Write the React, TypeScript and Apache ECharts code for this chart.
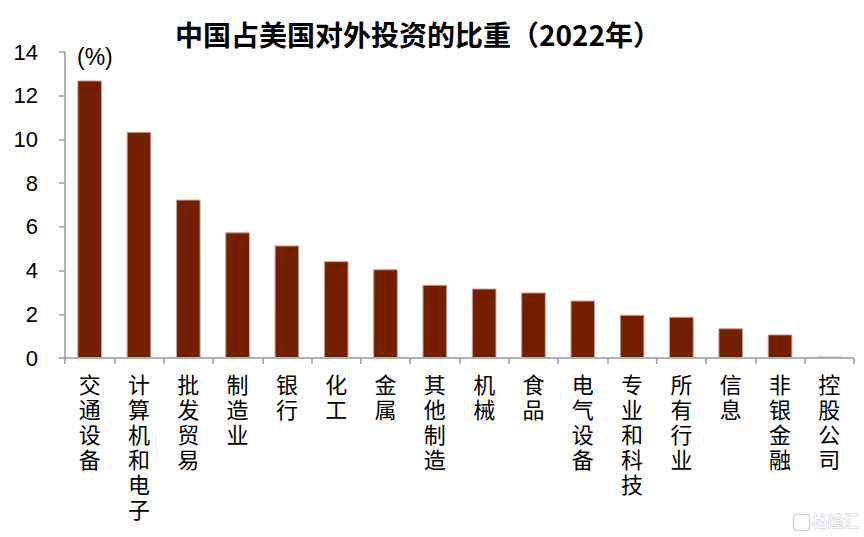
import React, { useEffect, useRef } from "react";
import * as echarts from "echarts";

const categories = [
  "交通设备", "计算机和电子", "批发贸易", "制造业", "银行", "化工", "金属", "其他制造",
  "机械", "食品", "电气设备", "专业和科技", "所有行业", "信息", "非银金融", "控股公司",
];
const shareValues = [12.7, 10.35, 7.25, 5.75, 5.15, 4.43, 4.06, 3.35, 3.18, 3.0, 2.63, 1.98, 1.89, 1.36, 1.08, 0.07];
const yTicks = { min: 0, max: 14, interval: 2 };
const titleText = "中国占美国对外投资的比重（2022年）";
const unitText = "(%)";
const watermark = "格隆汇";

export default function App() {
  const ref = useRef<HTMLDivElement>(null);
  useEffect(() => {
    if (!ref.current) return;
    const chart = echarts.init(ref.current, null, { renderer: "svg" });
    const font = "'Noto Sans CJK SC', 'Liberation Sans', Arial, sans-serif";
    chart.setOption({
      animation: false,
      backgroundColor: "#ffffff",
      title: {
        text: titleText,
        left: 170,
        top: 15,
        textStyle: { fontSize: 28, fontWeight: "bold", color: "#000", fontFamily: font },
      },
      grid: { left: 65, right: 10, top: 52, bottom: 179, containLabel: false },
      xAxis: {
        type: "category",
        data: categories,
        axisLine: { lineStyle: { color: "#999", width: 1.5 } },
        axisTick: { show: true, length: 6, lineStyle: { color: "#999", width: 1.5 } },
        axisLabel: {
          interval: 0,
          margin: 12,
          fontSize: 22,
          lineHeight: 25,
          color: "#000",
          fontFamily: font,
          verticalAlign: "top",
          formatter: (v: string) => v.split("").join("\n"),
        },
      },
      yAxis: {
        type: "value",
        min: yTicks.min,
        max: yTicks.max,
        interval: yTicks.interval,
        splitLine: { show: false },
        axisLine: { show: true, lineStyle: { color: "#999", width: 1.5 } },
        axisTick: { show: true, inside: false, length: 6, lineStyle: { color: "#999", width: 1.5 } },
        axisLabel: {
          margin: 27,
          fontSize: 22,
          color: "#000",
          fontFamily: "'Liberation Sans', Arial, sans-serif",
        },
      },
      series: [
        {
          type: "bar",
          data: shareValues,
          barWidth: "50%",
          itemStyle: { color: "#731f00", borderColor: "#c0a8a2", borderWidth: 1 },
        },
      ],
      graphic: [
        {
          type: "text",
          left: 77,
          top: 45,
          style: { text: unitText, fontSize: 23, fill: "#000", fontFamily: "'Liberation Sans', Arial, sans-serif" },
        },
        {
          type: "rect",
          left: 791,
          top: 512,
          shape: { width: 16, height: 16, r: 3 },
          style: { fill: "none", stroke: "#d4d4d4", lineWidth: 1.5 },
        },
        {
          type: "text",
          left: 811,
          top: 511,
          style: { text: watermark, fontSize: 16, fill: "#ffffff", stroke: "#cfcfcf", lineWidth: 1, fontFamily: font },
        },
      ],
    });
    return () => chart.dispose();
  }, []);
  return <div ref={ref} style={{ width: 864, height: 537, position: "absolute", left: 0, top: 0 }} />;
}
